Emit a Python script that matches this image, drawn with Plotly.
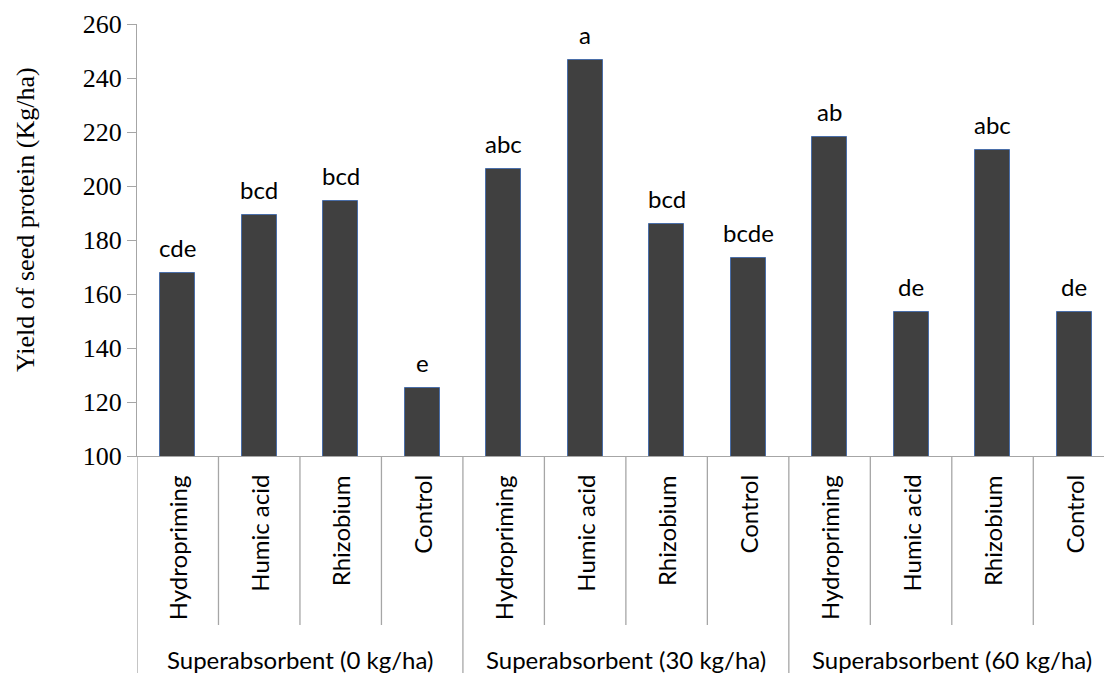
import plotly.graph_objects as go

# Seed protein yield by seed treatment and superabsorbent rate
groups = ["Superabsorbent (0 kg/ha)", "Superabsorbent (30 kg/ha)", "Superabsorbent (60 kg/ha)"]
treatments = ["Hydropriming", "Humic acid", "Rhizobium", "Control"]
yield_0 = [167.9, 189.4, 194.4, 125.1]
yield_30 = [206.4, 246.7, 186.0, 173.5]
yield_60 = [218.3, 153.2, 213.4, 153.2]
letters_0 = ["cde", "bcd", "bcd", "e"]
letters_30 = ["abc", "a", "bcd", "bcde"]
letters_60 = ["ab", "de", "abc", "de"]
y_ticks = [100, 120, 140, 160, 180, 200, 220, 240, 260]

values = yield_0 + yield_30 + yield_60
letters = letters_0 + letters_30 + letters_60
labels = treatments * len(groups)
xpos = list(range(len(values)))

W, H = 1104, 673
ML, MR, MT, MB = 137, 0, 24, 217
plot_h = H - MT - MB

def py(pix):
    """Pixel row (from top) to paper y."""
    return (H - MB - pix) / plot_h

sans = "Lato"
serif = "Liberation Serif"

fig = go.Figure(
    go.Bar(
        x=xpos,
        y=values,
        width=0.43,
        marker=dict(color="#404040", line=dict(color="#4a6ea8", width=1)),
        hoverinfo="skip",
    )
)

annotations = []
# significance letters above the bars
for x, v, t in zip(xpos, values, letters):
    annotations.append(dict(
        x=x, y=v, xref="x", yref="y", text=t, showarrow=False,
        xanchor="center", yanchor="bottom", yshift=9,
        font=dict(family=sans, size=24, color="#000000"),
    ))
# rotated treatment labels
for x, t in zip(xpos, labels):
    annotations.append(dict(
        x=x, y=py(473), xref="x", yref="paper", text=t, showarrow=False,
        textangle=-90, xanchor="center", yanchor="top",
        font=dict(family=sans, size=24, color="#000000"),
    ))
# group labels
n = len(treatments)
for g, name in enumerate(groups):
    annotations.append(dict(
        x=g * n + (n - 1) / 2, y=py(659), xref="x", yref="paper", text=name,
        showarrow=False, xanchor="center", yanchor="middle",
        font=dict(family=sans, size=24, color="#000000"),
    ))
# y-axis title
annotations.append(dict(
    x=(25 - ML) / (W - ML - MR), y=py(220), xref="paper", yref="paper",
    text="Yield of seed protein (Kg/ha)", showarrow=False, textangle=-90,
    xanchor="center", yanchor="middle",
    font=dict(family=serif, size=26, color="#000000"),
))

# category dividers below the axis
shapes = []
div_color = "#a6a6a6"
for i in range(len(values)):
    edge = i - 0.5
    full = (i % n == 0)
    shapes.append(dict(
        type="line", xref="x", yref="paper",
        x0=edge, x1=edge, y0=0, y1=py(673) if full else py(625),
        line=dict(color=div_color, width=1.3),
    ))

fig.update_layout(
    width=W, height=H,
    margin=dict(l=ML, r=MR, t=MT, b=MB, pad=0),
    paper_bgcolor="white", plot_bgcolor="white",
    showlegend=False,
    bargap=0,
    annotations=annotations,
    shapes=shapes,
    xaxis=dict(
        range=[-0.5, 11.368], showticklabels=False, ticks="",
        showgrid=False, zeroline=False, showline=True,
        linecolor="#a6a6a6", linewidth=1.3,
    ),
    yaxis=dict(
        range=[100, 260], tickvals=y_ticks, ticks="outside", ticklen=9,
        tickcolor="#a6a6a6", tickwidth=1.3, showgrid=False, zeroline=False,
        showline=True, linecolor="#a6a6a6", linewidth=1.3,
        tickfont=dict(family=serif, size=26, color="#000000"),
    ),
)

fig.write_html("out.html")
